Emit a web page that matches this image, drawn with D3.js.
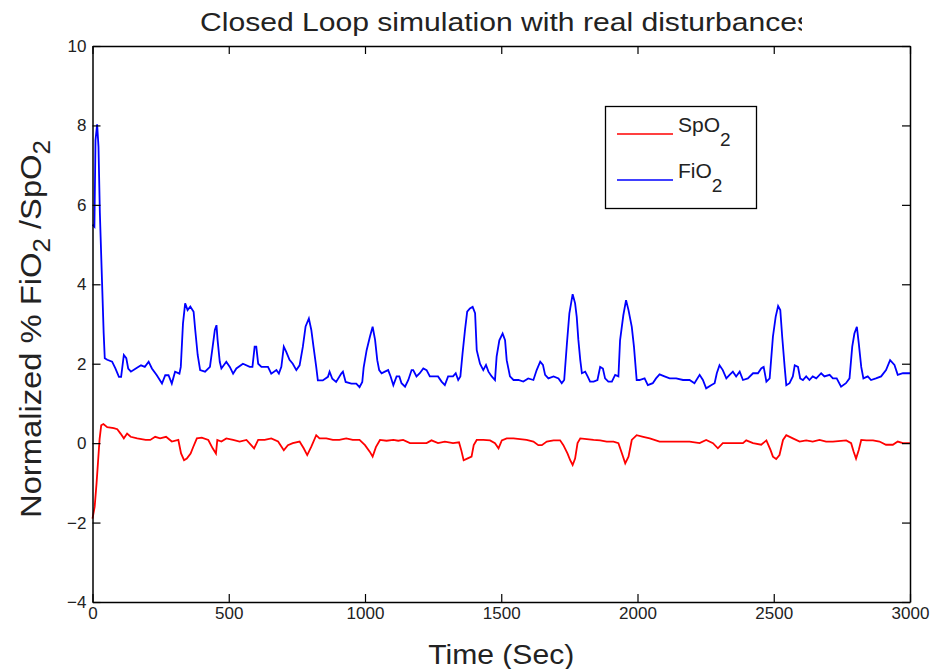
<!DOCTYPE html>
<html>
<head>
<meta charset="utf-8">
<script src="https://cdn.jsdelivr.net/npm/d3@7"></script>
<style>
  html, body { margin: 0; padding: 0; background: #fff; }
  svg { display: block; font-family: "Liberation Sans", Arial, sans-serif; }
</style>
</head>
<body>
<svg id="chart" width="936" height="669"></svg>
<script>
// Closed-loop simulation: normalized FiO2 and SpO2 over time

const xTicks = [0, 500, 1000, 1500, 2000, 2500, 3000];
const yTicks = [-4, -2, 0, 2, 4, 6, 8, 10];

const fio2Time = [0, 7, 11, 17, 22, 27, 35, 41, 45, 54, 72, 84, 97, 105, 115, 124, 131, 141, 159, 178, 192,
  206, 218, 236, 255, 267, 279, 291, 303, 319, 324, 332, 340, 349, 359, 371, 377, 386, 395, 413, 431,
  441, 449, 455, 459, 467, 473, 491, 504, 516, 528, 552, 577, 587, 595, 601, 608, 620, 644, 656, 675,
  684, 693, 702, 711, 723, 735, 748, 760, 772, 782, 794, 803, 811, 821, 827, 845, 864, 870, 880, 894,
  913, 919, 929, 950, 968, 980, 990, 995, 1006, 1018, 1028, 1037, 1045, 1052, 1061, 1073, 1085, 1094,
  1104, 1116, 1126, 1134, 1147, 1159, 1171, 1177, 1189, 1201, 1214, 1226, 1238, 1250, 1268, 1281, 1293,
  1305, 1323, 1333, 1342, 1350, 1358, 1367, 1375, 1385, 1395, 1404, 1410, 1422, 1434, 1444, 1453, 1465,
  1477, 1483, 1493, 1505, 1514, 1520, 1532, 1545, 1563, 1581, 1599, 1618, 1630, 1643, 1653, 1661, 1673,
  1692, 1710, 1722, 1731, 1741, 1750, 1762, 1771, 1777, 1783, 1790, 1796, 1808, 1817, 1826, 1839, 1853,
  1863, 1873, 1881, 1893, 1906, 1918, 1930, 1936, 1948, 1958, 1967, 1979, 1987, 1997, 2007, 2026, 2038,
  2056, 2068, 2081, 2099, 2118, 2142, 2167, 2191, 2209, 2228, 2240, 2252, 2270, 2283, 2291, 2301, 2313,
  2326, 2338, 2350, 2362, 2375, 2387, 2405, 2424, 2442, 2454, 2463, 2473, 2485, 2497, 2507, 2516, 2524,
  2531, 2540, 2546, 2558, 2570, 2577, 2589, 2597, 2607, 2619, 2631, 2643, 2656, 2674, 2686, 2705, 2717,
  2731, 2747, 2765, 2778, 2788, 2796, 2805, 2812, 2821, 2829, 2845, 2857, 2875, 2894, 2912, 2927, 2943,
  2955, 2974, 3000];
const fio2Value = [5.5, 5.45, 7.63, 8.03, 7.46, 5.8, 4.06, 2.77, 2.14, 2.1, 2.05, 1.88, 1.67, 1.67, 2.22,
  2.14, 1.88, 1.80, 1.88, 1.96, 1.92, 2.05, 1.88, 1.71, 1.50, 1.71, 1.71, 1.50, 1.80, 1.75, 1.92, 3.01,
  3.52, 3.35, 3.44, 3.31, 2.85, 2.22, 1.84, 1.80, 1.92, 2.43, 2.85, 2.97, 2.60, 2.05, 1.88, 2.05, 1.92,
  1.75, 1.88, 2.00, 1.92, 1.92, 2.43, 2.43, 2.00, 1.92, 1.92, 1.75, 1.84, 1.75, 1.92, 2.43, 2.30, 2.10,
  2.00, 1.84, 1.96, 2.43, 2.94, 3.14, 2.85, 2.43, 1.92, 1.58, 1.58, 1.67, 1.80, 1.62, 1.54, 1.75, 1.80,
  1.54, 1.50, 1.50, 1.41, 1.54, 1.90, 2.34, 2.68, 2.93, 2.60, 2.09, 1.84, 1.76, 1.80, 1.84, 1.68, 1.46,
  1.68, 1.68, 1.51, 1.42, 1.59, 1.84, 1.84, 1.68, 1.76, 1.88, 1.84, 1.68, 1.68, 1.68, 1.55, 1.46, 1.68,
  1.68, 1.76, 1.59, 1.68, 2.26, 2.85, 3.31, 3.39, 3.43, 3.27, 2.34, 2.00, 1.84, 1.97, 1.80, 1.68, 1.59,
  2.18, 2.59, 2.76, 2.59, 2.09, 1.68, 1.59, 1.59, 1.55, 1.63, 1.59, 1.84, 2.05, 1.97, 1.72, 1.63, 1.68,
  1.63, 1.51, 1.59, 2.51, 3.27, 3.75, 3.52, 3.18, 2.60, 2.09, 1.76, 1.80, 1.68, 1.55, 1.55, 1.59, 1.92,
  1.88, 1.63, 1.55, 1.55, 1.72, 1.68, 2.59, 3.22, 3.60, 3.35, 2.93, 2.43, 1.59, 1.59, 1.63, 1.46, 1.51,
  1.63, 1.73, 1.68, 1.63, 1.63, 1.59, 1.59, 1.51, 1.72, 1.59, 1.38, 1.46, 1.51, 1.76, 1.96, 1.84, 1.63,
  1.72, 1.80, 1.68, 1.80, 1.59, 1.63, 1.76, 1.76, 1.88, 1.92, 1.55, 1.63, 2.68, 3.18, 3.45, 3.35, 2.68,
  1.92, 1.46, 1.51, 1.68, 1.96, 1.92, 1.63, 1.59, 1.68, 1.59, 1.68, 1.63, 1.76, 1.68, 1.72, 1.63, 1.63,
  1.42, 1.51, 1.63, 2.43, 2.76, 2.93, 2.51, 1.92, 1.63, 1.68, 1.59, 1.63, 1.68, 1.84, 2.09, 1.97, 1.72,
  1.76, 1.76];

const spo2Time = [0, 8, 15, 20, 26, 32, 40, 54, 78, 91, 103, 115, 127, 140, 164, 195, 212, 230, 248, 270,
  291, 315, 325, 336, 346, 360, 370, 383, 401, 425, 441, 453, 458, 473, 491, 516, 540, 565, 593, 608,
  632, 656, 681, 702, 717, 735, 760, 775, 788, 803, 821, 833, 858, 882, 906, 931, 955, 980, 1000, 1018,
  1028, 1040, 1055, 1079, 1104, 1122, 1140, 1165, 1195, 1226, 1244, 1268, 1293, 1323, 1345, 1353, 1362,
  1375, 1391, 1399, 1410, 1434, 1459, 1477, 1490, 1502, 1520, 1545, 1569, 1593, 1618, 1636, 1649, 1667,
  1692, 1716, 1728, 1743, 1753, 1762, 1771, 1780, 1790, 1814, 1839, 1863, 1887, 1912, 1930, 1943, 1955,
  1967, 1979, 1997, 2021, 2045, 2081, 2130, 2191, 2228, 2252, 2277, 2295, 2313, 2350, 2387, 2399, 2424,
  2454, 2473, 2488, 2497, 2509, 2521, 2534, 2546, 2570, 2595, 2619, 2643, 2668, 2692, 2717, 2766, 2784,
  2793, 2802, 2812, 2821, 2840, 2864, 2888, 2912, 2937, 2955, 2974, 3000];
const spo2Value = [-1.9, -1.6, -1.0, -0.5, 0.1, 0.45, 0.48, 0.40, 0.38, 0.35, 0.24, 0.12, 0.24, 0.16, 0.12,
  0.08, 0.08, 0.16, 0.12, 0.16, 0.04, 0.08, -0.26, -0.43, -0.39, -0.26, -0.09, 0.12, 0.14, 0.08, -0.13,
  -0.26, 0.08, 0.04, 0.12, 0.08, 0.04, 0.08, -0.13, 0.08, 0.08, 0.12, 0.04, -0.18, -0.05, 0.00, 0.04,
  -0.13, -0.30, -0.09, 0.20, 0.12, 0.12, 0.08, 0.08, 0.12, 0.08, 0.08, -0.05, -0.22, -0.34, -0.10, 0.08,
  0.06, 0.08, 0.06, 0.08, 0.00, 0.00, 0.00, 0.07, 0.00, 0.04, 0.00, 0.02, -0.17, -0.43, -0.39, -0.34,
  -0.05, 0.08, 0.08, 0.07, 0.00, -0.13, 0.07, 0.12, 0.12, 0.10, 0.08, 0.04, -0.05, -0.05, 0.04, 0.07,
  0.07, -0.05, -0.26, -0.43, -0.55, -0.39, 0.00, 0.12, 0.10, 0.08, 0.07, 0.04, 0.04, 0.00, -0.26, -0.51,
  -0.34, 0.08, 0.20, 0.16, 0.12, 0.04, 0.04, 0.04, 0.00, 0.08, 0.00, -0.13, 0.00, 0.00, 0.00, 0.07, 0.00,
  -0.04, 0.07, -0.17, -0.34, -0.40, -0.30, 0.08, 0.20, 0.12, 0.04, 0.07, 0.04, 0.08, 0.04, 0.04, 0.07,
  0.00, -0.21, -0.39, -0.17, 0.08, 0.07, 0.07, 0.04, -0.04, -0.04, 0.04, 0.00, 0.00];

const seriesNames = ["SpO", "FiO"];
const seriesColors = ["#ff0000", "#0000ff"];

const svg = d3.select("#chart");
const margin = { left: 92.5, right: 26, top: 46, bottom: 67 };
const W = 936, H = 669;

const x = d3.scaleLinear().domain([0, 3000]).range([margin.left, W - margin.right]);
const y = d3.scaleLinear().domain([-4, 10]).range([H - margin.bottom, margin.top]);

const line = d3.line().x(d => x(d[0])).y(d => y(d[1])).curve(d3.curveLinear);

const spo2 = d3.zip(spo2Time, spo2Value);
const fio2 = d3.zip(fio2Time, fio2Value);

svg.append("path").datum(fio2).attr("d", line)
  .attr("fill", "none").attr("stroke", seriesColors[1]).attr("stroke-width", 1.8)
  .attr("stroke-linejoin", "miter");
svg.append("path").datum(spo2).attr("d", line)
  .attr("fill", "none").attr("stroke", seriesColors[0]).attr("stroke-width", 1.8);

// axes: ticks point inward on all four sides
const tickFont = 17;
const gB = svg.append("g").attr("transform", `translate(0,${y(-4)})`)
  .call(d3.axisBottom(x).tickValues(xTicks).tickFormat(d3.format("d")).tickSizeInner(-8).tickSizeOuter(0).tickPadding(5));
const gL = svg.append("g").attr("transform", `translate(${x(0)},0)`)
  .call(d3.axisLeft(y).tickValues(yTicks).tickFormat(d3.format("d")).tickSizeInner(-8).tickSizeOuter(0).tickPadding(6));
const gT = svg.append("g").attr("transform", `translate(0,${y(10)})`)
  .call(d3.axisTop(x).tickValues(xTicks).tickFormat("").tickSizeInner(-8).tickSizeOuter(0));
const gR = svg.append("g").attr("transform", `translate(${x(3000)},0)`)
  .call(d3.axisRight(y).tickValues(yTicks).tickFormat("").tickSizeInner(-8).tickSizeOuter(0));

[gB, gL, gT, gR].forEach(g => {
  g.selectAll(".domain").attr("stroke", "#000").attr("stroke-width", 1.5);
  g.selectAll(".tick line").attr("stroke", "#000").attr("stroke-width", 1.2);
  g.selectAll(".tick text").attr("fill", "#222").attr("font-size", tickFont);
});

// title (clipped at its right end)
svg.append("clipPath").attr("id", "titleClip")
  .append("rect").attr("x", 0).attr("y", 0).attr("width", 802).attr("height", 40);
svg.append("text")
  .attr("clip-path", "url(#titleClip)")
  .attr("x", 200).attr("y", 31)
  .attr("font-size", 26).attr("fill", "#222")
  .attr("textLength", 612).attr("lengthAdjust", "spacingAndGlyphs")
  .text("Closed Loop simulation with real disturbances");

// x-axis label
svg.append("text")
  .attr("x", (x(0) + x(3000)) / 2).attr("y", 664)
  .attr("text-anchor", "middle").attr("font-size", 27).attr("fill", "#222")
  .attr("textLength", 146).attr("lengthAdjust", "spacingAndGlyphs")
  .text("Time (Sec)");

// y-axis label with subscripts
const yl = svg.append("text")
  .attr("transform", `translate(41,${(y(-4) + y(10)) / 2 + 5}) rotate(-90)`)
  .attr("text-anchor", "middle").attr("font-size", 29).attr("fill", "#222")
  .attr("textLength", 378).attr("lengthAdjust", "spacingAndGlyphs");
yl.append("tspan").text("Normalized % FiO");
yl.append("tspan").attr("dy", 9).attr("font-size", 23).text("2");
yl.append("tspan").attr("dy", -9).text(" /SpO");
yl.append("tspan").attr("dy", 9).attr("font-size", 23).text("2");

// legend
const lg = svg.append("g");
lg.append("rect").attr("x", 605.5).attr("y", 106.5).attr("width", 151).attr("height", 102)
  .attr("fill", "#fff").attr("stroke", "#000").attr("stroke-width", 1.3);
const legendRowY = [134, 180];
seriesNames.forEach((name, i) => {
  lg.append("line").attr("x1", 617).attr("x2", 673).attr("y1", legendRowY[i]).attr("y2", legendRowY[i])
    .attr("stroke", seriesColors[i]).attr("stroke-width", 1.3);
  const t = lg.append("text").attr("x", 678).attr("y", legendRowY[i] - 2)
    .attr("font-size", 21).attr("fill", "#222");
  t.append("tspan").text(name);
  t.append("tspan").attr("dy", 14).attr("font-size", 19).text("2");
});
</script>
</body>
</html>
